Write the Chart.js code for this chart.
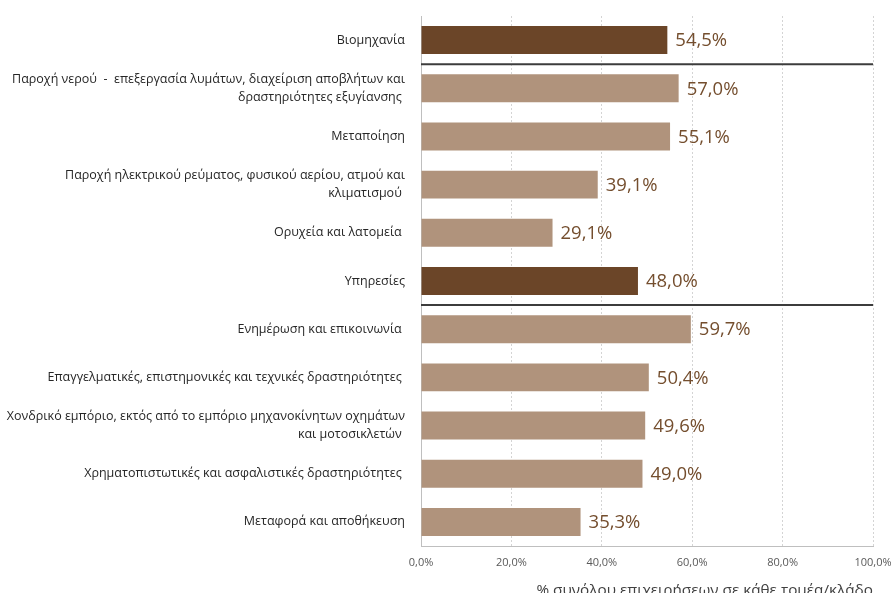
<!DOCTYPE html>
<html lang="el">
<head>
<meta charset="utf-8">
<title>Επιχειρήσεις ανά τομέα/κλάδο</title>
<script src="https://cdn.jsdelivr.net/npm/chart.js@4.4.1/dist/chart.umd.min.js"></script>
<style>
  html, body { margin: 0; padding: 0; background: #fff; overflow: hidden; }
  .chart-container { position: relative; width: 891px; height: 600px; }
</style>
</head>
<body>
<div class="chart-container">
  <canvas id="sectorChart"></canvas>
</div>
<script>
// Sectors (aggregates first, then their branches)
const categories = [
  'Βιομηχανία',
  ['Παροχή νερού  -  επεξεργασία λυμάτων, διαχείριση αποβλήτων και', 'δραστηριότητες εξυγίανσης '],
  'Μεταποίηση',
  ['Παροχή ηλεκτρικού ρεύματος, φυσικού αερίου, ατμού και', 'κλιματισμού '],
  'Ορυχεία και λατομεία ',
  'Υπηρεσίες',
  'Ενημέρωση και επικοινωνία ',
  'Επαγγελματικές, επιστημονικές και τεχνικές δραστηριότητες ',
  ['Χονδρικό εμπόριο, εκτός από το εμπόριο μηχανοκίνητων οχημάτων', 'και μοτοσικλετών '],
  'Χρηματοπιστωτικές και ασφαλιστικές δραστηριότητες ',
  'Μεταφορά και αποθήκευση'
];

// % of all enterprises in each sector/branch
const shares = [54.5, 57.0, 55.1, 39.1, 29.1, 48.0, 59.7, 50.4, 49.6, 49.0, 35.3];

// true = sector total row (dark bar + separator line underneath)
const isTotal = [true, false, false, false, false, true, false, false, false, false, false];

const xTicks = [0, 20, 40, 60, 80, 100];
const xTitle = '% συνόλου επιχειρήσεων σε κάθε τομέα/κλάδο';

const DARK = '#6b4528';
const LIGHT = '#b0937c';
const FONT = '"Open Sans", sans-serif';
const fmt = v => v.toFixed(1).replace('.', ',') + '%';

// value labels at the end of each bar
const barValueLabels = {
  id: 'barValueLabels',
  afterDatasetsDraw(chart) {
    const ctx = chart.ctx;
    const meta = chart.getDatasetMeta(0);
    ctx.save();
    ctx.font = '18.5px ' + FONT;
    ctx.fillStyle = '#744e2e';
    ctx.textAlign = 'left';
    ctx.textBaseline = 'middle';
    meta.data.forEach((bar, i) => {
      ctx.fillText(fmt(shares[i]), bar.x + 8, bar.y + 1);
    });
    ctx.restore();
  }
};

// dark rule under each sector total
const sectorRules = {
  id: 'sectorRules',
  afterDatasetsDraw(chart) {
    const ctx = chart.ctx;
    const area = chart.chartArea;
    const y = chart.scales.y;
    ctx.save();
    ctx.strokeStyle = '#3c3c3c';
    ctx.lineWidth = 2;
    isTotal.forEach((t, i) => {
      if (!t) return;
      const yy = (y.getPixelForValue(i) + y.getPixelForValue(i + 1)) / 2;
      ctx.beginPath();
      ctx.moveTo(area.left, yy);
      ctx.lineTo(area.right, yy);
      ctx.stroke();
    });
    ctx.restore();
  }
};

const ctx = document.getElementById('sectorChart').getContext('2d');
new Chart(ctx, {
  type: 'bar',
  data: {
    labels: categories,
    datasets: [{
      data: shares,
      backgroundColor: isTotal.map(t => t ? DARK : LIGHT),
      categoryPercentage: 1,
      barPercentage: 0.58
    }]
  },
  options: {
    indexAxis: 'y',
    responsive: true,
    maintainAspectRatio: false,
    animation: false,
    layout: { padding: { top: 16, right: 18, left: 0, bottom: 0 } },
    plugins: {
      legend: { display: false },
      tooltip: { enabled: false }
    },
    scales: {
      x: {
        min: 0,
        max: 100,
        afterBuildTicks: scale => { scale.ticks = xTicks.map(v => ({ value: v })); },
        ticks: {
          callback: v => fmt(v),
          color: '#595959',
          font: { family: FONT, size: 11 },
          padding: 10,
          maxRotation: 0
        },
        grid: { color: '#d4d4d4', drawTicks: false },
        border: { color: '#bfbfbf', dash: [2, 2] },
        title: {
          display: true,
          text: xTitle,
          align: 'end',
          color: '#404040',
          font: { family: FONT, size: 15.3 },
          padding: { top: 0, bottom: 0 }
        },
        afterFit: scale => {
          scale.height = 54;
          scale.paddingLeft = 0;
          scale.paddingRight = 0;
        }
      },
      y: {
        grid: { display: false, drawTicks: false },
        border: { color: '#bfbfbf' },
        ticks: {
          color: '#262626',
          font: { family: FONT, size: 12.5, lineHeight: 1.45 },
          padding: 16
        },
        afterFit: scale => {
          scale.width = 421;
          scale.paddingTop = 0;
          scale.paddingBottom = 0;
        }
      }
    }
  },
  plugins: [barValueLabels, sectorRules]
});
</script>
</body>
</html>
